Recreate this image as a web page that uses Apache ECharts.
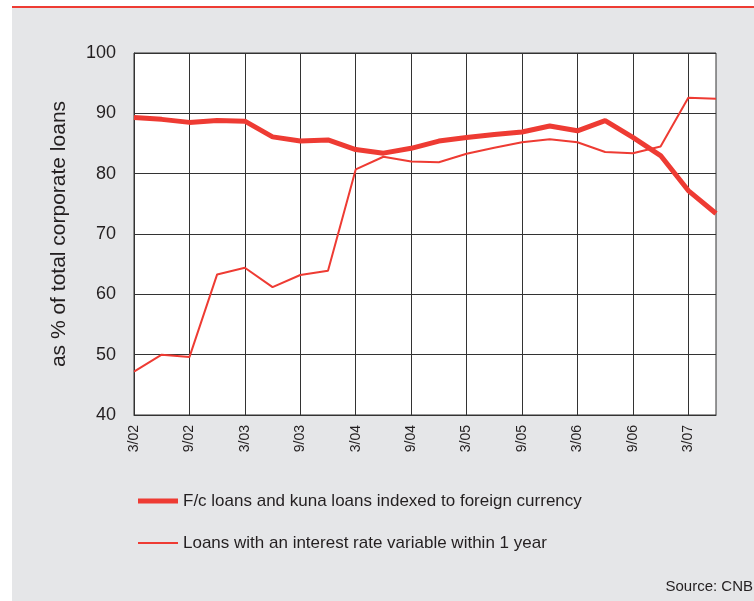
<!DOCTYPE html>
<html>
<head>
<meta charset="utf-8">
<script src="https://cdn.jsdelivr.net/npm/echarts@6/dist/echarts.min.js"></script>
<style>
  html, body { margin: 0; padding: 0; background: #fff; }
  #panel { position: absolute; left: 12px; top: 6px; width: 742px; height: 595px;
           background: #e5e6e8; border-top: 2px solid #ee3b33; box-sizing: border-box; }
  #chart { position: absolute; left: 0; top: 0; width: 754px; height: 601px; }
</style>
</head>
<body>
<div id="panel"></div>
<div id="chart"></div>
<script>
// quarterly, 3/02 .. 6/07
var quarters = ["3/02", "6/02", "9/02", "12/02", "3/03", "6/03", "9/03", "12/03",
                "3/04", "6/04", "9/04", "12/04", "3/05", "6/05", "9/05", "12/05",
                "3/06", "6/06", "9/06", "12/06", "3/07", "6/07"];
var fxLoans = [89.3, 89.0, 88.5, 88.8, 88.7, 86.1, 85.4, 85.6, 84.0, 83.4, 84.2,
               85.4, 86.0, 86.5, 86.9, 87.9, 87.1, 88.8, 86.0, 83.0, 77.2, 73.4];
var variableRate = [47.2, 50.0, 49.6, 63.3, 64.4, 61.2, 63.2, 63.9, 80.7, 82.8, 82.0,
                    81.9, 83.3, 84.3, 85.2, 85.7, 85.2, 83.6, 83.4, 84.5, 92.6, 92.4];
var seriesNames = ["F/c loans and kuna loans indexed to foreign currency",
                   "Loans with an interest rate variable within 1 year"];

var red = "#ee3b33";
var ink = "#231f20";
var font = "'Liberation Sans', Arial, sans-serif";

function legendRow(name, top, thick) {
    return {
        orient: "vertical",
        left: 138, top: top, padding: 0,
        icon: "rect",
        itemWidth: 40, itemHeight: thick,
        textStyle: { fontSize: 17, color: ink, fontFamily: font, lineHeight: 22 },
        data: [name]
    };
}

var chart = echarts.init(document.getElementById("chart"));
chart.setOption({
    animation: false,
    textStyle: { fontFamily: font },
    grid: {
        left: 134, right: 38, top: 53, bottom: 186,
        show: true, backgroundColor: "#fff", borderColor: "#333", borderWidth: 1
    },
    xAxis: {
        type: "category",
        data: quarters,
        boundaryGap: false,
        axisLine: { lineStyle: { color: "#333", width: 1 } },
        axisTick: { show: false },
        axisLabel: { interval: 1, rotate: 90, margin: 10, fontSize: 14, color: ink, fontFamily: font },
        splitLine: { show: true, interval: 1, lineStyle: { color: "#333", width: 1 } }
    },
    yAxis: {
        type: "value",
        min: 40, max: 100, interval: 10,
        name: "as % of total corporate loans",
        nameLocation: "middle",
        nameGap: 64,
        nameTextStyle: { fontSize: 21, color: ink, fontFamily: font },
        axisLine: { show: true, lineStyle: { color: "#333" } },
        axisTick: { show: false },
        axisLabel: { margin: 18, fontSize: 18, color: ink, fontFamily: font },
        splitLine: { lineStyle: { color: "#333", width: 1 } }
    },
    legend: [legendRow(seriesNames[0], 490, 5), legendRow(seriesNames[1], 532, 2)],
    graphic: [{
        type: "text", right: 1, top: 579,
        style: { text: "Source: CNB", font: "15px " + font, fill: ink }
    }],
    series: [{
        name: seriesNames[0], type: "line", data: fxLoans,
        symbol: "none", z: 3,
        lineStyle: { color: red, width: 5 }, itemStyle: { color: red }
    }, {
        name: seriesNames[1], type: "line", data: variableRate,
        symbol: "none", z: 2,
        lineStyle: { color: red, width: 2 }, itemStyle: { color: red }
    }]
});
</script>
</body>
</html>
